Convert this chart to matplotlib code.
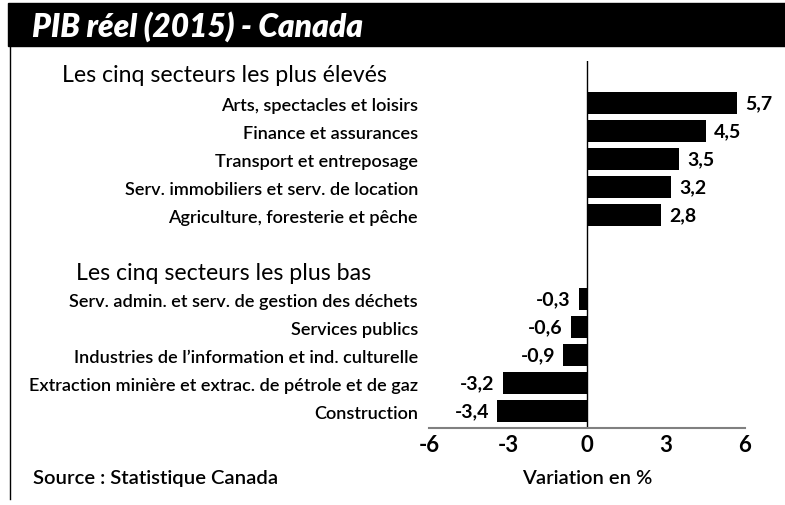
import matplotlib.pyplot as plt
from matplotlib.patches import Rectangle
from matplotlib.lines import Line2D

FONT = ['Lato', 'DejaVu Sans']
plt.rcParams['font.family'] = FONT

top_sectors = ["Arts, spectacles et loisirs",
               "Finance et assurances",
               "Transport et entreposage",
               "Serv. immobiliers et serv. de location",
               "Agriculture, foresterie et pêche"]
top_values = [5.7, 4.5, 3.5, 3.2, 2.8]

low_sectors = ["Serv. admin. et serv. de gestion des déchets",
               "Services publics",
               "Industries de l’information et ind. culturelle",
               "Extraction minière et extrac. de pétrole et de gaz",
               "Construction"]
low_values = [-0.3, -0.6, -0.9, -3.2, -3.4]

ticks = [-6, -3, 0, 3, 6]

W, H = 785, 506
fig = plt.figure(figsize=(W / 100, H / 100), dpi=100)

# header band + left frame line
fig.patches.append(Rectangle((8 / W, 1 - 47 / H), 1 - 8 / W, 43 / H,
                             transform=fig.transFigure, color='black', zorder=0))
fig.lines.append(Line2D([9.5 / W, 9.5 / W], [1 - 47 / H, 1 - 500 / H],
                        transform=fig.transFigure, color='black', lw=1))
fig.text(32 / W, 1 - 27 / H, "PIB réel (2015) - Canada", color='white',
         fontsize=22.8, fontweight='heavy', fontstyle='italic', va='center', ha='left')

ax = fig.add_axes([429 / W, 1 - 429 / H, 316 / W, 367 / H])

labels = top_sectors + low_sectors
values = top_values + low_values
pos = list(range(5)) + list(range(7, 12))

ax.barh(pos, values, height=0.77, color='black')
ax.axvline(0, color='black', lw=1)

for y, v in zip(pos, values):
    txt = f"{v:.1f}".replace('.', ',')
    if v >= 0:
        ax.annotate(txt, (v, y), xytext=(6, 0), textcoords='offset points',
                    ha='left', va='center', fontsize=14, fontweight='bold')
    else:
        ax.annotate(txt, (v, y), xytext=(-6, 0), textcoords='offset points',
                    ha='right', va='center', fontsize=14, fontweight='bold')

ax.set_xlim(-6, 6)
ax.set_ylim(11.6, -1.5)
ax.set_xticks(ticks)
ax.set_xticklabels([str(t) for t in ticks], fontsize=16, fontweight='bold')
ax.set_yticks(pos)
ax.set_yticklabels(labels, fontsize=13.1, fontweight='semibold')
ax.tick_params(axis='y', length=0, pad=8)
ax.tick_params(axis='x', length=0, pad=4)

for s in ['top', 'right', 'left']:
    ax.spines[s].set_visible(False)
ax.spines['bottom'].set_color('#808080')
ax.spines['bottom'].set_linewidth(1.5)

fig.text(62 / W, 1 - 76 / H, "Les cinq secteurs les plus élevés",
         fontsize=16.7, va='center', ha='left')
fig.text(76 / W, 1 - 273 / H, "Les cinq secteurs les plus bas",
         fontsize=16.7, va='center', ha='left')
fig.text(33 / W, 1 - 479 / H, "Source : Statistique Canada",
         fontsize=14.6, fontweight='semibold', va='center', ha='left')
fig.text(587 / W, 1 - 479 / H, "Variation en %",
         fontsize=14.5, fontweight='semibold', va='center', ha='center')

fig.savefig("out.png", dpi=100)
